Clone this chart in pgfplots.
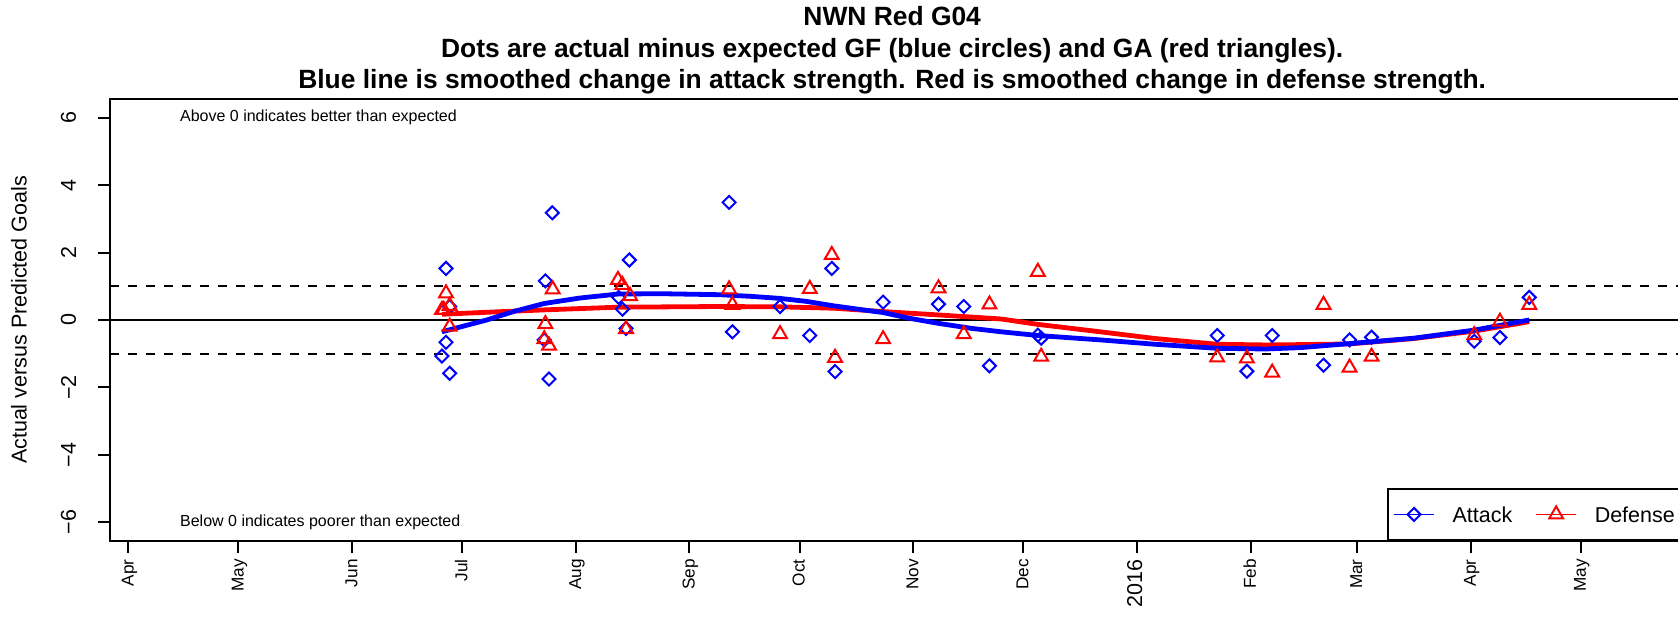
\documentclass[border=0pt]{standalone}
\usepackage{pgfplots}
\pgfplotsset{compat=1.18}
\usepackage{fontspec}
\setmainfont{Liberation Sans}
\definecolor{rblue}{RGB}{0,0,255}
\definecolor{rred}{RGB}{255,0,0}
\pgfplotstableread{
x y
85.5 -1.07
86.6 1.53
86.6 -0.66
87.6 0.40
87.6 -1.58
113.4 -0.59
113.7 1.16
114.7 -1.75
115.6 3.18
133.7 0.67
134.7 0.32
135.7 -0.25
136.6 1.78
163.8 3.49
164.7 -0.35
177.7 0.40
185.8 -0.46
191.8 1.53
192.7 -1.53
205.8 0.53
220.9 0.47
227.8 0.40
234.8 -1.36
248.0 -0.45
248.9 -0.54
296.9 -0.46
305.0 -1.52
311.9 -0.46
325.9 -1.34
333.0 -0.59
339.0 -0.51
367.0 -0.63
374.0 -0.52
382.0 0.67
}\attack
\pgfplotstableread{
x y
85.5 0.30
86.0 0.30
86.6 0.79
87.6 0.42
87.6 -0.20
113.4 -0.57
113.7 -0.12
114.7 -0.76
115.7 0.91
133.5 1.19
134.7 1.04
135.7 -0.27
136.8 0.71
163.8 0.91
164.7 0.45
177.7 -0.42
185.8 0.92
191.8 1.93
192.7 -1.12
205.8 -0.57
220.9 0.94
227.8 -0.42
234.8 0.46
248.0 1.43
248.9 -1.09
296.9 -1.11
305.0 -1.14
311.9 -1.56
325.9 0.45
333.0 -1.41
339.0 -1.09
367.0 -0.45
374.0 -0.05
382.0 0.45
}\defense
\pgfplotstableread{
x y
85.5 -0.35
97.7 0.00
105 0.25
113.4 0.49
123 0.65
133.5 0.77
145 0.78
161.3 0.75
170 0.70
177.7 0.64
185 0.55
192.3 0.42
199 0.32
205.8 0.22
213 0.05
220.9 -0.10
230 -0.25
238 -0.35
248 -0.46
265 -0.59
280 -0.72
296.9 -0.84
310 -0.86
319.5 -0.82
333 -0.70
350.5 -0.54
367 -0.30
382 0.00
}\attsmooth
\pgfplotstableread{
x y
85.5 0.17
100 0.24
113.4 0.30
133.5 0.38
161.3 0.40
177.7 0.39
192.3 0.35
205.8 0.25
220.9 0.15
238 0.03
248 -0.13
265 -0.35
280 -0.55
296.9 -0.72
310 -0.74
319.5 -0.73
333 -0.71
350.5 -0.55
367 -0.33
382 -0.05
}\defsmooth
\begin{document}
\begin{tikzpicture}
\useasboundingbox (-55.1pt,-37.8pt) rectangle (783.9pt,270.25pt);
\begin{axis}[
  scale only axis,
  width=786.9pt, height=220.5pt,
  at={(0pt,0pt)}, anchor=south west,
  xmin=-4.97, xmax=424.2,
  ymin=-6.54, ymax=6.54,
  axis line style={line width=1pt},
  tick style={line width=1pt, black},
  tick align=outside,
  tick pos=left,
  major tick length=6pt,
  xtick={0,30,61,91,122,153,183,214,244,275,306,335,366,396},
  xticklabels={Apr,May,Jun,Jul,Aug,Sep,Oct,Nov,Dec,{\fontsize{10.75}{13}\selectfont 2016},Feb,Mar,Apr,May},
  xticklabel style={font=\fontsize{8.6}{10}\selectfont, inner sep=0pt, text height=0.72em, text depth=0.2em, yshift=-3.2pt, rotate=90, anchor=east},
  ytick={-6,-4,-2,0,2,4,6},
  yticklabels={−6,−4,−2,0,2,4,6},
  yticklabel style={font=\fontsize{10.75}{13}\selectfont, inner sep=0pt, xshift=-14.8pt, rotate=90, anchor=center},
  legend columns=2,
  legend cell align=left,
  legend image code/.code={\draw[mark repeat=2,mark phase=2,#1] plot coordinates {(0pt,0pt) (9.85pt,0pt) (19.7pt,0pt)};},
  legend style={at={(0.8113,0)}, anchor=south west, draw=black, line width=1pt,
    inner xsep=2.7pt, inner ysep=8.6pt, font=\fontsize{10.75}{13}\selectfont,
    nodes={inner sep=0pt, text height=7.9pt, text depth=0pt},
    /tikz/every odd column/.style={column sep=9pt},
    /tikz/every even column/.style={column sep=11.6pt}},
]
\addlegendimage{rblue, line width=0.9pt, mark=square, mark size=2.3pt, mark options={rotate=45, solid, line width=1pt}}
\addlegendentry{Attack}
\addlegendimage{rred, line width=0.9pt, mark=triangle, mark size=4pt, mark options={solid, line width=1pt}}
\addlegendentry{Defense\hspace*{12pt}}
\addplot[black, line width=0.8pt, forget plot] coordinates {(-10,0) (440,0)};
\addplot[black, line width=0.9pt, dash pattern=on 4.5pt off 4.5pt, forget plot] coordinates {(-10,1) (440,1)};
\addplot[black, line width=0.9pt, dash pattern=on 4.5pt off 4.5pt, forget plot] coordinates {(-10,-1) (440,-1)};
\addplot[only marks, mark=square, mark size=2.3pt, mark options={rotate=45, draw=rblue, line width=1pt, fill=none}, forget plot] table {\attack};
\addplot[only marks, mark=triangle, mark size=4pt, mark options={draw=rred, line width=1pt, fill=none}, forget plot] table {\defense};
\addplot[rred, line width=2.4pt, forget plot] table {\defsmooth};
\addplot[rblue, line width=2.4pt, forget plot] table {\attsmooth};
\node[anchor=west, inner sep=0pt, font=\fontsize{8}{10}\selectfont] at (axis cs:14,6) {Above 0 indicates better than expected};
\node[anchor=west, inner sep=0pt, font=\fontsize{8}{10}\selectfont] at (axis cs:14,-6) {Below 0 indicates poorer than expected};
\end{axis}
\node[rotate=90, anchor=center, inner sep=0pt, font=\fontsize{10.75}{13}\selectfont] at (-45.6pt,110.25pt) {Actual versus Predicted Goals};
\node[anchor=base, inner sep=0pt, font=\bfseries\fontsize{13.2}{15}\selectfont] at (391pt,257.3pt) {NWN Red G04};
\node[anchor=base, inner sep=0pt, font=\bfseries\fontsize{13.2}{15}\selectfont] at (391pt,241.5pt) {Dots are actual minus expected GF (blue circles) and GA (red triangles).};
\node[anchor=base, inner sep=0pt, font=\bfseries\fontsize{13.2}{15}\selectfont] at (391pt,226.1pt) {Blue line is smoothed change in attack strength. Red is smoothed change in defense strength.};
\end{tikzpicture}
\end{document}
